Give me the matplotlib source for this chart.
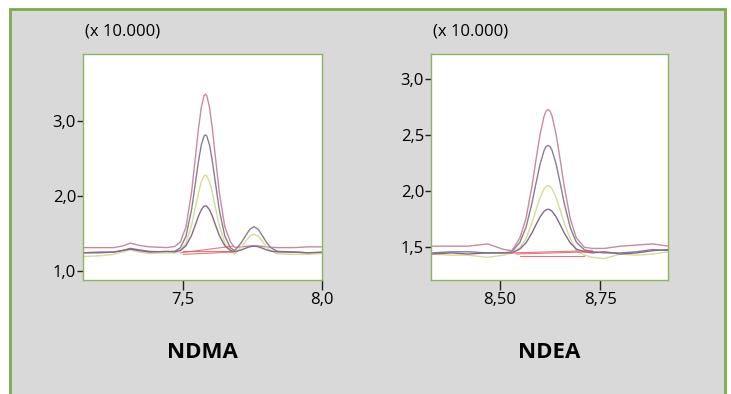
import matplotlib.pyplot as plt
from matplotlib import font_manager
from matplotlib.patches import Rectangle
from matplotlib.ticker import FuncFormatter

installed = {f.name for f in font_manager.fontManager.ttflist}
if 'Liberation Sans Narrow' in installed:
    plt.rcParams['font.family'] = ['Liberation Sans Narrow', 'DejaVu Sans']
    fs_tick, fs_title = 13.5, 17
else:
    plt.rcParams['font.family'] = ['Open Sans', 'DejaVu Sans']
    fs_tick, fs_title = 12, 16

# NDMA chromatograms (x 10.000)
x_ndma = [7.14, 7.20, 7.25, 7.28, 7.31, 7.34, 7.38, 7.44,
          7.47, 7.49, 7.51, 7.53, 7.545, 7.555, 7.565, 7.575, 7.58, 7.585, 7.595, 7.605,
          7.615, 7.63, 7.65, 7.67,
          7.685, 7.695, 7.71, 7.725, 7.74, 7.755, 7.77, 7.785, 7.80, 7.815, 7.84,
          7.90, 7.95, 8.00]
ndma_pink = [1.31, 1.31, 1.31, 1.33, 1.37, 1.34, 1.32, 1.31,
             1.325, 1.386, 1.587, 2.050, 2.557, 2.903, 3.184, 3.345, 3.365, 3.345, 3.184, 2.903,
             2.557, 2.050, 1.587, 1.386,
             1.315, 1.314, 1.319, 1.326, 1.332, 1.335, 1.332, 1.326, 1.319, 1.314, 1.31,
             1.31, 1.32, 1.32]
ndma_gray = [1.24, 1.24, 1.25, 1.27, 1.30, 1.28, 1.26, 1.25,
             1.261, 1.308, 1.462, 1.815, 2.203, 2.467, 2.682, 2.804, 2.82, 2.804, 2.682, 2.467,
             2.203, 1.815, 1.462, 1.308,
             1.27, 1.31, 1.38, 1.47, 1.555, 1.59, 1.555, 1.47, 1.38, 1.31, 1.26,
             1.25, 1.24, 1.24]
ndma_yellow = [1.19, 1.20, 1.22, 1.25, 1.28, 1.25, 1.23, 1.24,
               1.238, 1.269, 1.372, 1.608, 1.867, 2.044, 2.188, 2.270, 2.28, 2.270, 2.188, 2.044,
               1.867, 1.608, 1.372, 1.269,
               1.22, 1.265, 1.32, 1.394, 1.462, 1.49, 1.462, 1.394, 1.32, 1.266, 1.228,
               1.22, 1.22, 1.23]
ndma_purple = [1.24, 1.25, 1.25, 1.27, 1.29, 1.27, 1.25, 1.26,
               1.254, 1.273, 1.334, 1.473, 1.626, 1.731, 1.815, 1.864, 1.87, 1.864, 1.815, 1.731,
               1.626, 1.473, 1.334, 1.273,
               1.255, 1.264, 1.28, 1.302, 1.322, 1.33, 1.322, 1.302, 1.28, 1.264, 1.252,
               1.25, 1.24, 1.25]
# integration baselines: (x0, y0, x1, y1)
ndma_base = [(7.49, 1.24, 7.68, 1.33), (7.50, 1.27, 7.69, 1.27), (7.50, 1.22, 7.68, 1.25)]

# NDEA chromatograms (x 10.000)
x_ndea = [8.33, 8.38, 8.42, 8.47, 8.51,
          8.53, 8.55, 8.565, 8.58, 8.59, 8.60, 8.61, 8.615, 8.62, 8.625, 8.63, 8.64, 8.65,
          8.66, 8.675, 8.69, 8.71,
          8.73, 8.76, 8.80, 8.84, 8.88, 8.92]
ndea_pink = [1.51, 1.51, 1.51, 1.53, 1.48,
             1.47, 1.585, 1.757, 2.047, 2.283, 2.507, 2.670, 2.715, 2.73, 2.715, 2.670, 2.507,
             2.283, 2.047, 1.757, 1.585, 1.50,
             1.49, 1.49, 1.51, 1.52, 1.53, 1.51]
ndea_gray = [1.45, 1.46, 1.46, 1.45, 1.45,
             1.46, 1.546, 1.677, 1.895, 2.073, 2.242, 2.364, 2.399, 2.41, 2.399, 2.364, 2.242,
             2.073, 1.895, 1.677, 1.546, 1.478,
             1.46, 1.45, 1.45, 1.46, 1.48, 1.47]
ndea_yellow = [1.44, 1.43, 1.43, 1.41, 1.43,
               1.45, 1.496, 1.579, 1.719, 1.833, 1.942, 2.021, 2.043, 2.05, 2.043, 2.021, 1.942,
               1.833, 1.719, 1.579, 1.47, 1.43,
               1.41, 1.40, 1.44, 1.43, 1.44, 1.46]
ndea_purple = [1.44, 1.45, 1.44, 1.45, 1.45,
               1.45, 1.485, 1.539, 1.629, 1.702, 1.771, 1.821, 1.835, 1.84, 1.835, 1.821, 1.771,
               1.702, 1.629, 1.539, 1.485, 1.46,
               1.45, 1.46, 1.44, 1.45, 1.47, 1.48]
ndea_base = [(8.53, 1.45, 8.73, 1.47), (8.54, 1.44, 8.73, 1.46), (8.55, 1.42, 8.71, 1.42)]

colors = ['#c98a9e', '#8a7e92', '#d5dc96', '#86698a']
red = '#e0585a'
green = '#7aaa50'

fig = plt.figure(figsize=(7.31, 3.94), dpi=100)
fig.patch.set_facecolor('white')
fig.patches.append(Rectangle((10 / 731, -0.05), 715 / 731, (394 - 9) / 394 + 0.05,
                             transform=fig.transFigure, facecolor='#d9d9d9',
                             edgecolor=green, linewidth=2, zorder=-10))


def panel(rect, x, series, base, xlim, ylim, yticks, xticks, fmt_y, fmt_x, name):
    ax = fig.add_axes(rect)
    ax.set_facecolor('white')
    for ys, c in zip(series, colors):
        ax.plot(x, ys, color=c, linewidth=1.0)
    for x0, y0, x1, y1 in base:
        ax.plot([x0, x1], [y0, y1], color=red, linewidth=0.8, alpha=0.8)
    ax.set_xlim(*xlim)
    ax.set_ylim(*ylim)
    ax.set_yticks(yticks)
    ax.set_xticks(xticks)
    ax.yaxis.set_major_formatter(FuncFormatter(lambda v, p: (fmt_y % v).replace('.', ',')))
    ax.xaxis.set_major_formatter(FuncFormatter(lambda v, p: (fmt_x % v).replace('.', ',')))
    ax.tick_params(axis='y', length=4, width=1, colors='#222222', labelsize=fs_tick, pad=1)
    ax.tick_params(axis='x', length=7, width=1, colors='#222222', labelsize=fs_tick, pad=2)
    ax.tick_params(labelcolor='black')
    for s in ax.spines.values():
        s.set_color('#8ab55e')
        s.set_linewidth(1)
    ax.text(0.01, 1.10, '(x 10.000)', transform=ax.transAxes, fontsize=fs_tick, va='center')
    ax.text(0.5, -0.32, name, transform=ax.transAxes, fontsize=fs_title, fontweight='bold',
            ha='center', va='center')
    return ax


panel([83 / 731, 1 - 280 / 394, 239 / 731, 226 / 394], x_ndma,
      [ndma_pink, ndma_gray, ndma_yellow, ndma_purple], ndma_base,
      (7.139, 8.0), (0.876, 3.903), [1.0, 2.0, 3.0], [7.5, 8.0], '%.1f', '%.1f', 'NDMA')
panel([431 / 731, 1 - 280 / 394, 237 / 731, 226 / 394], x_ndea,
      [ndea_pink, ndea_gray, ndea_yellow, ndea_purple], ndea_base,
      (8.329, 8.918), (1.208, 3.226), [1.5, 2.0, 2.5, 3.0], [8.5, 8.75], '%.1f', '%.2f', 'NDEA')

fig.savefig('out.png', dpi=100, facecolor='white')
